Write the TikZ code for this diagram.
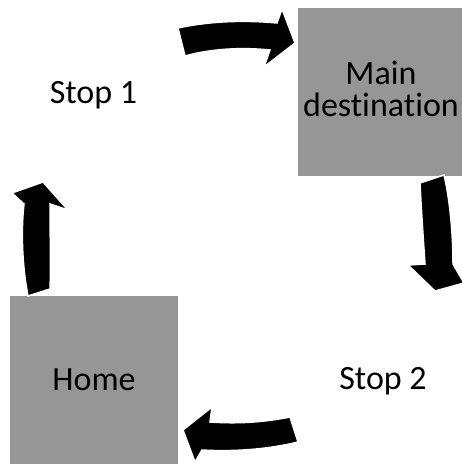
\documentclass[tikz,border=0pt]{standalone}
\usepackage{fontspec}
\setmainfont{Carlito}[Ligatures={NoCommon}]
\definecolor{boxgray}{RGB}{150,150,150}
\tikzset{
  box/.style={fill=boxgray, draw=none, minimum width=168pt, minimum height=168pt, inner sep=0pt, align=center, text=black},
  label/.style={inner sep=0pt, align=center, text=black},
  blockarrow/.style={fill=black, draw=white, line width=1.5pt, line join=miter}
}
\begin{document}
\begin{tikzpicture}[x=1pt,y=-1pt]
\useasboundingbox (0,0) rectangle (462,465);
\fontsize{34}{32}\selectfont
\node[box] (main) at (382,92) {};
\node[label] (maintext) at (381,89) {Main\\destination};
\node[box] (home) at (94,380) {Home};
\node[label] (stop1) at (93.5,95) {Stop 1};
\node[label] (stop2) at (383,381) {Stop 2};
% top arrow (stop1 -> main)
\draw[blockarrow] (178,28) .. controls (210,21) and (245,20) .. (277,23) -- (282,9) -- (295,43) -- (264,67) -- (270,50) .. controls (240,47) and (210,49) .. (185,56) -- cycle;
% right arrow (main -> stop2)
\draw[blockarrow] (420,183) -- (444,175) .. controls (450,200) and (453,235) .. (453,264) -- (464,283) -- (435,291) -- (408,265) -- (425,264) .. controls (423,235) and (421,205) .. (420,183) -- cycle;
% bottom arrow (stop2 -> home)
\draw[blockarrow] (290,417) .. controls (265,422) and (240,424) .. (210,422) -- (212,407) -- (183,430) -- (195,462) -- (202,450) .. controls (235,452) and (270,449) .. (298,442) -- cycle;
% left arrow (home -> stop1)
\draw[blockarrow] (28,296) .. controls (22,265) and (21,230) .. (24,204) -- (12,193) -- (43,182) -- (68,210) -- (50,204) .. controls (50,235) and (51,265) .. (50,289) -- cycle;
\end{tikzpicture}
\end{document}
